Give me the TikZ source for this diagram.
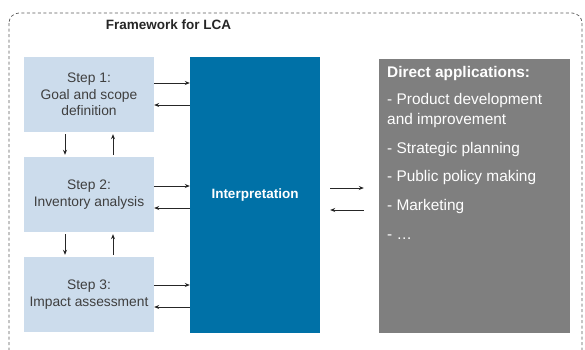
\documentclass[tikz,border=0pt]{standalone}
\usepackage{fontspec}
\setmainfont{Liberation Sans}
\usetikzlibrary{arrows.meta}
\definecolor{stepblue}{HTML}{CCDCEC}
\definecolor{interblue}{HTML}{0071A7}
\definecolor{appgrey}{HTML}{7F7F7F}
\definecolor{txtgrey}{HTML}{3F3F3F}
\definecolor{framegrey}{HTML}{5A5A5A}
\begin{document}
\begin{tikzpicture}[x=1pt,y=-1pt,
  stepbox/.style={fill=stepblue, minimum width=130pt, minimum height=75pt, inner sep=0pt,
    align=center, text=txtgrey, font=\fontsize{13.8}{16.5}\selectfont},
  conn/.style={draw=black!85, line width=0.7pt, -{Stealth[length=5pt,width=4pt]}},
]
\useasboundingbox (0,0) rectangle (585,349);
\begin{scope}
  \clip (0,0) rectangle (585,349);
  \draw[framegrey, dash pattern=on 3pt off 2.5pt, line width=0.7pt, rounded corners=10pt]
    (9,13) rectangle (582,375);
\end{scope}

\node[font=\fontsize{13.5}{16}\selectfont\bfseries, text=black!85] (title) at (168.5,25) {Framework for LCA};

\node[stepbox] (s1) at (89,94.5) {Step 1:\\Goal and scope\\definition};
\node[stepbox] (s2) at (89,194.5) {Step 2:\\Inventory analysis};
\node[stepbox] (s3) at (89,294.5) {Step 3:\\Impact assessment};

\node[fill=interblue, minimum width=130pt, minimum height=276pt, inner sep=0pt,
  text=white, font=\fontsize{13.5}{16}\selectfont\bfseries] (interp) at (255,195) {Interpretation};

\node[fill=appgrey, minimum width=191pt, minimum height=274pt, inner sep=0pt] (apps) at (474.5,196) {};
\node[anchor=north west, inner sep=0pt, align=left, text=white,
  font=\fontsize{15.4}{20}\selectfont] (appstext) at (387,66.5)
  {\textbf{Direct applications:}\\[7pt]
   - Product development\\and improvement\\[9pt]
   - Strategic planning\\[8pt]
   - Public policy making\\[9pt]
   - Marketing\\[9pt]
   - \dots};

% step <-> interpretation
\draw[conn] (s1.east |- 0,83) -- (interp.west |- 0,83);
\draw[conn] (interp.west |- 0,105) -- (s1.east |- 0,105);
\draw[conn] (s2.east |- 0,186) -- (interp.west |- 0,186);
\draw[conn] (interp.west |- 0,208) -- (s2.east |- 0,208);
\draw[conn] (s3.east |- 0,285) -- (interp.west |- 0,285);
\draw[conn] (interp.west |- 0,307) -- (s3.east |- 0,307);

% vertical arrows
\draw[conn, shorten <=2pt, shorten >=2pt] (s1.south -| 65,0) -- (s2.north -| 65,0);
\draw[conn, shorten <=2pt, shorten >=2pt] (s2.north -| 113,0) -- (s1.south -| 113,0);
\draw[conn, shorten <=2pt, shorten >=2pt] (s2.south -| 65,0) -- (s3.north -| 65,0);
\draw[conn, shorten <=2pt, shorten >=2pt] (s3.north -| 113,0) -- (s2.south -| 113,0);

% interpretation <-> applications
\draw[conn, shorten <=10pt, shorten >=15pt] (interp.east |- 0,188) -- (apps.west |- 0,188);
\draw[conn, shorten <=15pt, shorten >=10pt] (apps.west |- 0,210) -- (interp.east |- 0,210);
\end{tikzpicture}
\end{document}
